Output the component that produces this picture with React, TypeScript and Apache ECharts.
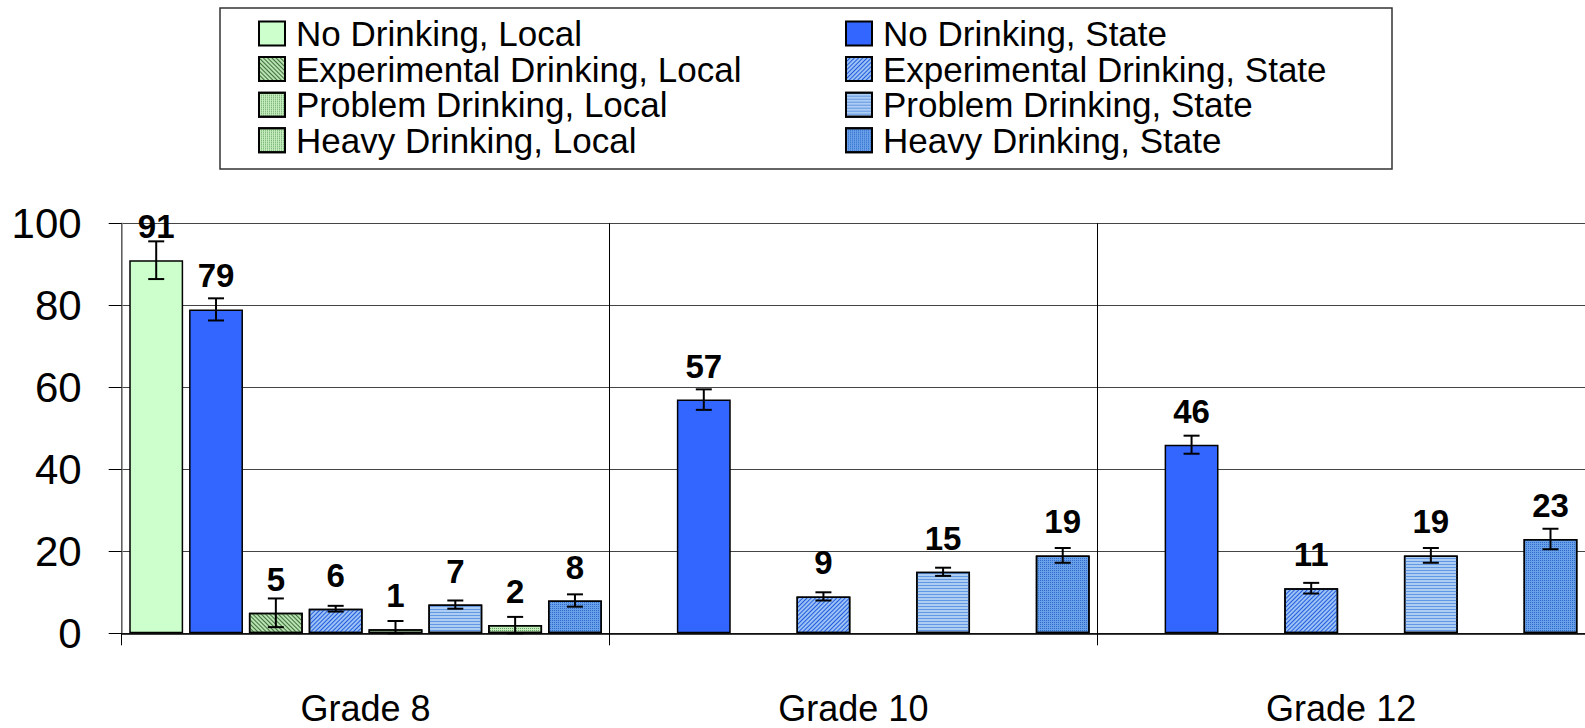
import React, { useEffect, useRef } from "react";
import * as echarts from "echarts";

const categories = ["Grade 8", "Grade 10", "Grade 12"];

const noDrinkLocal = [91, null, null];
const noDrinkState = [79, 57, 46];
const expLocal = [5, null, null];
const expState = [6, 9, 11];
const probLocal = [1, null, null];
const probState = [7, 15, 19];
const heavyLocal = [2, null, null];
const heavyState = [8, 19, 23];

const noDrinkLocalErr = [4.6, null, null];
const noDrinkStateErr = [2.7, 2.5, 2.2];
const expLocalErr = [3.5, null, null];
const expStateErr = [0.7, 1.0, 1.3];
const probLocalErr = [2.0, null, null];
const probStateErr = [1.0, 1.0, 1.8];
const heavyLocalErr = [2.0, null, null];
const heavyStateErr = [1.5, 1.8, 2.5];

const yTicks = [0, 20, 40, 60, 80, 100];

const FONT = "'Liberation Sans', Arial, sans-serif";
const BAR_GAP = 0.11;
const CAT_GAP = 0.031;

type SeriesDef = {
  name: string;
  data: (number | null)[];
  err: (number | null)[];
  color: string;
  decal?: any;
};

const diagUp = (color: string) => ({
  symbol: "rect",
  symbolSize: 1,
  dashArrayX: [1, 0],
  dashArrayY: [1, 2],
  rotation: Math.PI / 4,
  color,
});
const diagDown = (color: string) => ({
  symbol: "rect",
  symbolSize: 1,
  dashArrayX: [1, 0],
  dashArrayY: [1, 2],
  rotation: -Math.PI / 4,
  color,
});
const dots = (color: string) => ({
  symbol: "rect",
  symbolSize: 1,
  dashArrayX: [1, 1],
  dashArrayY: [1, 1],
  rotation: 0,
  color,
});
const horiz = (color: string) => ({
  symbol: "rect",
  symbolSize: 1,
  dashArrayX: [1, 0],
  dashArrayY: [1, 2],
  rotation: 0,
  color,
});

const seriesDefs: SeriesDef[] = [
  { name: "No Drinking, Local", data: noDrinkLocal, err: noDrinkLocalErr, color: "#CCFFCC" },
  { name: "No Drinking, State", data: noDrinkState, err: noDrinkStateErr, color: "#3366FF" },
  { name: "Experimental Drinking, Local", data: expLocal, err: expLocalErr, color: "#b8e2b0", decal: diagUp("rgba(40,90,40,0.85)") },
  { name: "Experimental Drinking, State", data: expState, err: expStateErr, color: "#9cc2f5", decal: diagDown("rgba(20,80,220,0.9)") },
  { name: "Problem Drinking, Local", data: probLocal, err: probLocalErr, color: "#c4ecbc", decal: dots("rgba(70,140,70,0.75)") },
  { name: "Problem Drinking, State", data: probState, err: probStateErr, color: "#aecdf3", decal: horiz("rgba(90,145,225,0.9)") },
  { name: "Heavy Drinking, Local", data: heavyLocal, err: heavyLocalErr, color: "#c4ecbc", decal: dots("rgba(70,140,70,0.75)") },
  { name: "Heavy Drinking, State", data: heavyState, err: heavyStateErr, color: "#6aa0e8", decal: dots("rgba(30,95,200,0.8)") },
];

export default function App() {
  const ref = useRef<HTMLDivElement>(null);
  useEffect(() => {
    if (!ref.current) return;
    const chart = echarts.init(ref.current, null, { renderer: "svg" });
    const N = seriesDefs.length;

    const barSeries = seriesDefs.map((s) => ({
      type: "bar",
      name: s.name,
      data: s.data,
      barGap: BAR_GAP * 100 + "%",
      barCategoryGap: CAT_GAP * 100 + "%",
      itemStyle: {
        color: s.color,
        borderColor: "#000",
        borderWidth: 1.5,
        ...(s.decal ? { decal: s.decal } : {}),
      },
      label: {
        show: true,
        position: "top",
        distance: 17,
        formatter: "{c}",
        fontSize: 33,
        fontWeight: "bold",
        fontFamily: FONT,
        color: "#000",
      },
      z: 2,
    }));

    const errData: any[] = [];
    seriesDefs.forEach((s, k) => {
      s.data.forEach((v, c) => {
        const e = s.err[c];
        if (v != null && e != null) errData.push([c, v, e, k]);
      });
    });

    const errSeries = {
      type: "custom",
      name: "err",
      data: errData,
      z: 5,
      silent: true,
      renderItem: (params: any, api: any) => {
        const cat = api.value(0);
        const val = api.value(1);
        const err = api.value(2);
        const k = api.value(3);
        const band = api.size([1, 0])[0];
        const catGap = band * CAT_GAP;
        const w = (band - catGap) / (N + (N - 1) * BAR_GAP);
        const c = api.coord([cat, val]);
        const x = c[0] - band / 2 + catGap / 2 + k * w * (1 + BAR_GAP) + w / 2;
        const top = api.coord([cat, val + err])[1];
        const bot = api.coord([cat, Math.max(0, val - err)])[1];
        const hw = 8;
        const st = { stroke: "#000", lineWidth: 2 };
        return {
          type: "group",
          children: [
            { type: "line", shape: { x1: x, y1: top, x2: x, y2: bot }, style: st },
            { type: "line", shape: { x1: x - hw, y1: top, x2: x + hw, y2: top }, style: st },
            { type: "line", shape: { x1: x - hw, y1: bot, x2: x + hw, y2: bot }, style: st },
          ],
        };
      },
    };

    const legendCommon = {
      orient: "vertical",
      top: 16,
      padding: 0,
      itemGap: 0.6,
      itemWidth: 26,
      itemHeight: 24,
      icon: "rect",
      selectedMode: false,
      textStyle: {
        fontSize: 35,
        fontFamily: FONT,
        color: "#000",
        lineHeight: 35,
        padding: [0, 0, 0, 6],
      },
    };

    chart.setOption({
      animation: false,
      backgroundColor: "#fff",
      legend: [
        { ...legendCommon, left: 258, data: seriesDefs.filter((_, i) => i % 2 === 0).map((s) => s.name) },
        { ...legendCommon, left: 845, data: seriesDefs.filter((_, i) => i % 2 === 1).map((s) => s.name) },
      ],
      graphic: [
        {
          type: "rect",
          shape: { x: 220, y: 8, width: 1172, height: 161 },
          style: { fill: "none", stroke: "#333", lineWidth: 1.5 },
          z: 100,
        },
      ],
      grid: { left: 121.7, top: 223.3, width: 1470, height: 410 },
      xAxis: {
        type: "category",
        data: categories,
        axisLine: { show: true, lineStyle: { color: "#000", width: 1.5 } },
        axisTick: { show: true, length: 12, lineStyle: { color: "#000", width: 1 } },
        splitLine: { show: true, lineStyle: { color: "#000", width: 1 } },
        axisLabel: { fontSize: 36, fontFamily: FONT, color: "#000", margin: 57 },
      },
      yAxis: {
        type: "value",
        min: yTicks[0],
        max: yTicks[yTicks.length - 1],
        interval: yTicks[1] - yTicks[0],
        axisLine: { show: true, lineStyle: { color: "#808080", width: 1.5 } },
        axisTick: { show: true, length: 13, lineStyle: { color: "#000", width: 1 } },
        splitLine: { show: true, lineStyle: { color: "#444", width: 1 } },
        axisLabel: { fontSize: 42, fontFamily: FONT, color: "#000", margin: 40 },
      },
      series: [...barSeries, errSeries],
    });
    return () => chart.dispose();
  }, []);
  return (
    <div
      ref={ref}
      style={{ position: "fixed", left: 0, top: 0, width: 1585, height: 728 }}
    />
  );
}
